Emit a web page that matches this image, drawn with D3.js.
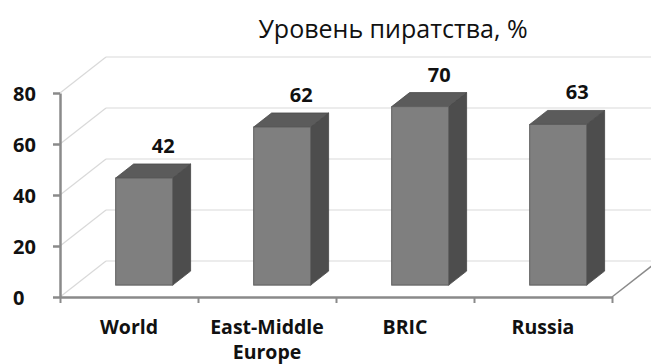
<!DOCTYPE html>
<html>
<head>
<meta charset="utf-8">
<script src="https://cdn.jsdelivr.net/npm/d3@7"></script>
<style>
  html, body { margin: 0; padding: 0; background: #fff; }
  svg { display: block; }
  text { font-family: "Open Sans", "Noto Sans", sans-serif; fill: #111; }
</style>
</head>
<body>
<svg id="chart" width="651" height="364"></svg>
<script>
// Piracy level by region, percent
const categories = ["World", "East-Middle Europe", "BRIC", "Russia"];
const values = [42, 62, 70, 63];
const yTicks = [0, 20, 40, 60, 80];
const title = "Уровень пиратства, %";

(function () {
const W = 651, H = 364;
const svg = d3.select("#chart");

// Plot frame (front plane) and 3D depth of the box
const plotLeft = 60, plotRight = 612, plotBottom = 297, plotTop = 93;
const depthX = 46, depthY = -36;          // full floor depth
const barFront = 0.33, barBack = 0.72;    // bar placement within the depth

const x = d3.scaleBand().domain(categories).range([plotLeft, plotRight]).paddingInner(0).paddingOuter(0);
const y = d3.scaleLinear().domain([0, 80]).range([plotBottom, plotTop]);
const edge = d3.scaleLinear().domain([0, categories.length]).range([plotLeft, plotRight]);

const gridColor = "#d9d9d9";
const axisColor = "#8a8a8a";

// Back wall gridlines and left-wall diagonals
const grid = svg.append("g");
yTicks.forEach(t => {
  grid.append("line")
    .attr("x1", plotLeft + depthX).attr("x2", W + 20)
    .attr("y1", y(t) + depthY).attr("y2", y(t) + depthY)
    .attr("stroke", gridColor).attr("stroke-width", 1.2);
  grid.append("line")
    .attr("x1", plotLeft).attr("y1", y(t))
    .attr("x2", plotLeft + depthX).attr("y2", y(t) + depthY)
    .attr("stroke", gridColor).attr("stroke-width", 1.2);
});

// Floor right edge
svg.append("line")
  .attr("x1", plotRight).attr("y1", plotBottom)
  .attr("x2", plotRight + depthX).attr("y2", plotBottom + depthY)
  .attr("stroke", axisColor).attr("stroke-width", 1.5);

// Bars as 3D boxes
const barW = x.bandwidth() * 0.413;
const fx = barFront * depthX, fy = barFront * depthY;
const bx = (barBack - barFront) * depthX, by = (barBack - barFront) * depthY;

const bars = svg.append("g").selectAll("g").data(categories).join("g");
bars.each(function (c, i) {
  const g = d3.select(this);
  const x0 = x(c) + (x.bandwidth() - barW) / 2 + fx;
  const x1 = x0 + barW;
  const yb = y(0) + fy;
  const yt = y(values[i]) + fy;
  // right side face
  g.append("path")
    .attr("d", `M${x1},${yt} L${x1 + bx},${yt + by} L${x1 + bx},${yb + by} L${x1},${yb} Z`)
    .attr("fill", "#4d4d4d").attr("stroke", "#444").attr("stroke-width", 0.8);
  // top face
  g.append("path")
    .attr("d", `M${x0},${yt} L${x0 + bx},${yt + by} L${x1 + bx},${yt + by} L${x1},${yt} Z`)
    .attr("fill", "#5b5b5b").attr("stroke", "#4a4a4a").attr("stroke-width", 0.8);
  // front face
  g.append("rect")
    .attr("x", x0).attr("y", yt).attr("width", barW).attr("height", yb - yt)
    .attr("fill", "#7f7f7f").attr("stroke", "#5e5e5e").attr("stroke-width", 1);
  // value label
  g.append("text")
    .attr("x", (x0 + x1) / 2 + 19).attr("y", yt - 25)
    .attr("text-anchor", "middle")
    .attr("font-size", 20).attr("font-weight", 700)
    .text(values[i]);
});

// Value axis
const yAxis = svg.append("g")
  .attr("transform", `translate(${plotLeft},0)`)
  .call(d3.axisLeft(y).tickValues(yTicks).tickSize(7).tickSizeOuter(0));
yAxis.select(".domain").attr("stroke", axisColor).attr("stroke-width", 2.5);
yAxis.selectAll(".tick line").attr("stroke", axisColor).attr("stroke-width", 2.5);
yAxis.selectAll(".tick text")
  .attr("x", 13 - plotLeft).attr("text-anchor", "start").attr("dy", "0.36em")
  .attr("font-size", 20).attr("font-weight", 700)
  .attr("font-family", "'Open Sans', sans-serif").attr("fill", "#111");

// Category axis
const xAxis = svg.append("g")
  .attr("transform", `translate(0,${plotBottom})`)
  .call(d3.axisBottom(edge).tickValues(d3.range(categories.length + 1)).tickSize(6).tickSizeOuter(0).tickFormat(""));
xAxis.select(".domain").attr("stroke", axisColor).attr("stroke-width", 2.5);
xAxis.selectAll(".tick line").attr("stroke", axisColor).attr("stroke-width", 2);

// Category labels with wrapping
const catLabels = svg.append("g").selectAll("text").data(categories).join("text")
  .attr("x", d => x(d) + x.bandwidth() / 2)
  .attr("y", 334)
  .attr("text-anchor", "middle")
  .attr("font-size", 19.5).attr("font-weight", 700);
catLabels.each(function (d) {
  const t = d3.select(this);
  const words = d.split(" ");
  let line = [];
  let tspan = t.append("tspan").attr("x", t.attr("x")).attr("dy", 0);
  words.forEach(w => {
    line.push(w);
    tspan.text(line.join(" "));
    if (tspan.node().getComputedTextLength() > x.bandwidth() * 0.95 && line.length > 1) {
      line.pop();
      tspan.text(line.join(" "));
      line = [w];
      tspan = t.append("tspan").attr("x", t.attr("x")).attr("dy", 24.5).text(w);
    }
  });
});

// Title
svg.append("text")
  .attr("x", 393).attr("y", 38)
  .attr("text-anchor", "middle")
  .attr("font-size", 25)
  .text(title);
})();
</script>
</body>
</html>
